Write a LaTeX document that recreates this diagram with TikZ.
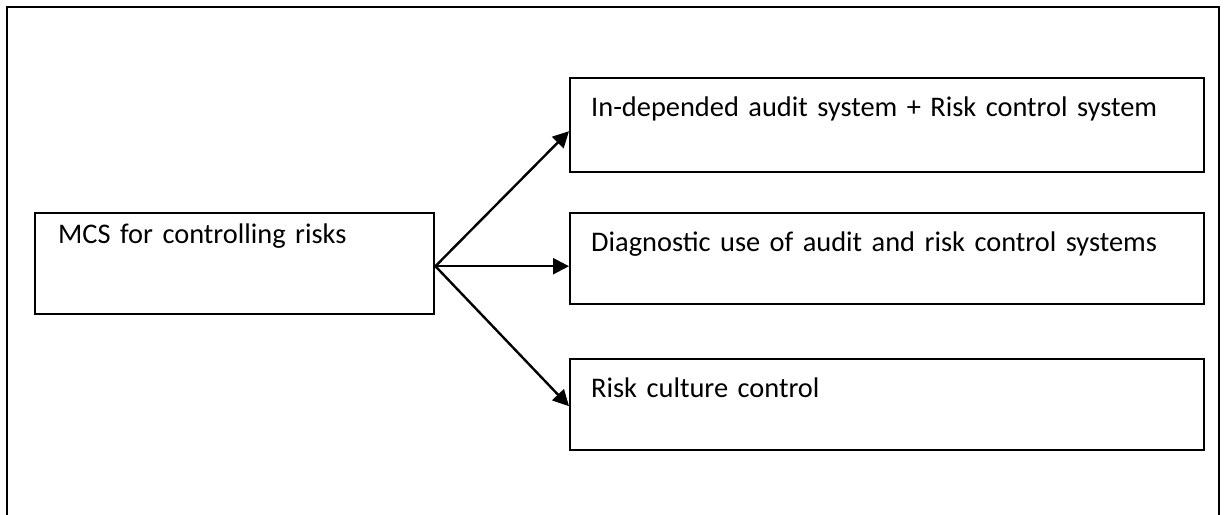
\documentclass[tikz,border=0pt]{standalone}
\usepackage{fontspec}
\setmainfont{Carlito}
\usetikzlibrary{arrows.meta}
\begin{document}
\begin{tikzpicture}[x=0.5pt,y=-0.5pt,line width=1.2pt,
    box/.style={draw,anchor=north west,inner ysep=0pt,inner xsep=10.5pt,
      text width=296pt,align=left,text height=19pt,
      font=\fontsize{14.2}{16}\selectfont},
    link/.style={-{Triangle[length=8pt,width=8pt]}}]
  \useasboundingbox (0,0) rectangle (1225,514);
  \draw (7,530) -- (7,7) -- (1219,7) -- (1219,530);
  \node[box,inner xsep=11.5pt,text width=176.5pt,text height=15pt,
    text depth=35.5pt] (mcs) at (34,212) {MCS for controlling risks};
  \node[box,text depth=28pt] (audit) at (569,77)
    {In-depended audit system + Risk control system};
  \node[box,text depth=26.5pt] (diag) at (569,212)
    {Diagnostic use of audit and risk control systems};
  \node[box,text depth=26.5pt] (culture) at (569,358) {Risk culture control};
  \foreach \n/\s in {audit/-3pt,diag/-3.75pt,culture/-0.75pt}
    \draw[link] ([yshift=-1.25pt]mcs.east) -- ([yshift=\s]\n.west);
\end{tikzpicture}
\end{document}
